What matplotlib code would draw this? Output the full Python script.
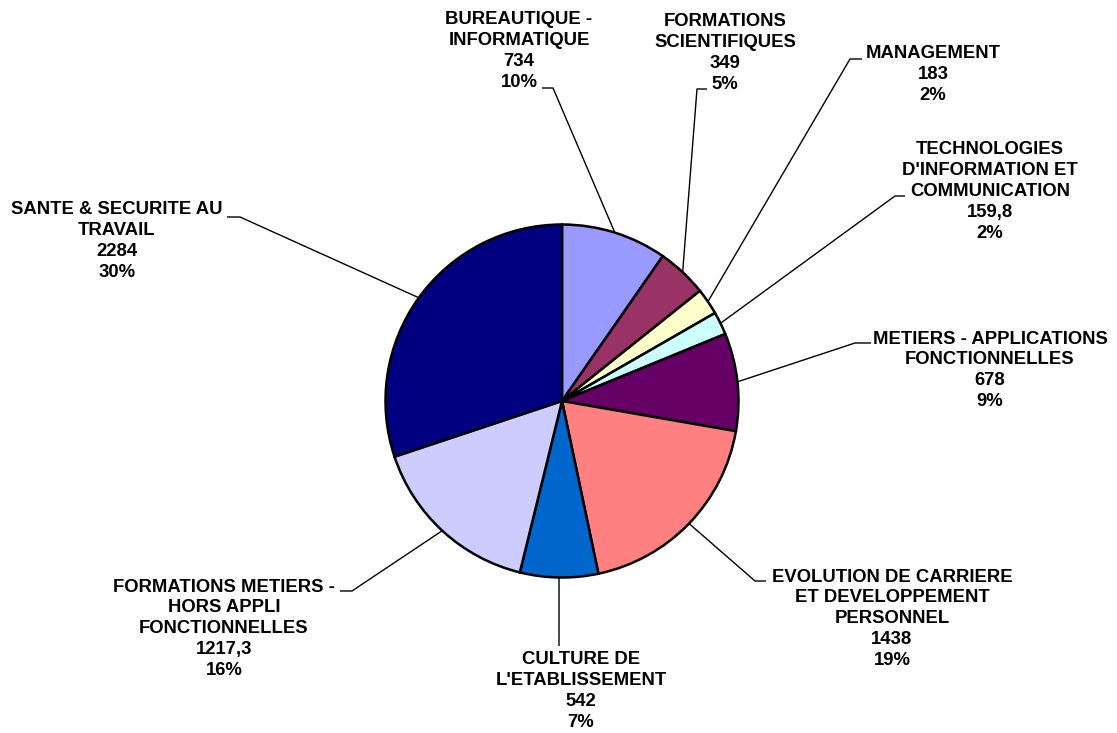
import matplotlib
matplotlib.use("Agg")
import matplotlib.pyplot as plt
import numpy as np

W, H = 1117, 733

categories = ["BUREAUTIQUE -\nINFORMATIQUE", "FORMATIONS\nSCIENTIFIQUES", "MANAGEMENT",
              "TECHNOLOGIES\nD'INFORMATION ET\nCOMMUNICATION",
              "METIERS - APPLICATIONS\nFONCTIONNELLES",
              "EVOLUTION DE CARRIERE\nET DEVELOPPEMENT\nPERSONNEL",
              "CULTURE DE\nL'ETABLISSEMENT",
              "FORMATIONS METIERS -\nHORS APPLI\nFONCTIONNELLES",
              "SANTE & SECURITE AU\nTRAVAIL"]
values = [734, 349, 183, 159.8, 678, 1438, 542, 1217.3, 2284]
colors = ["#9999FF", "#993366", "#FFFFCC", "#CCFFFF", "#660066",
          "#FF8080", "#0066CC", "#CCCCFF", "#000080"]

# label layout, in pixels from top-left: text centre x, first line centre y,
# bend of the leader line and its end next to the text
label_x = [519, 725, 933, 990, 990, 892, 581, 224, 117]
label_y = [18, 20, 52, 148, 337, 575, 658, 585, 208]
bend = [(553, 88), (697, 89), (850, 59), (895, 196), (855, 343),
        (755, 581), (559, 646), (352, 591), (240, 217)]
tip = [(542, 88), (707, 89), (862, 59), (905, 196), (871, 343),
       (766, 581), (559, 646), (340, 591), (227, 217)]

center = (562, H - 401)
radius = 176.5


def fmt(v):
    if float(v).is_integer():
        return str(int(v))
    return str(v).replace(".", ",")


fig = plt.figure(figsize=(W / 100, H / 100), dpi=100)
ax = fig.add_axes([0, 0, 1, 1])
ax.axis("off")

wedges, _ = ax.pie(values, colors=colors, startangle=90, counterclock=False,
                   center=center, radius=radius,
                   wedgeprops=dict(edgecolor="black", linewidth=1.8))
ax.set_xlim(0, W)
ax.set_ylim(0, H)
ax.set_aspect("equal")

total = sum(values)
for i, w in enumerate(wedges):
    mid = np.deg2rad((w.theta1 + w.theta2) / 2)
    ex = center[0] + radius * np.cos(mid)
    ey = center[1] + radius * np.sin(mid)
    xs = [ex, bend[i][0], tip[i][0]]
    ys = [ey, H - bend[i][1], H - tip[i][1]]
    ax.plot(xs, ys, color="black", lw=1.0, solid_capstyle="butt")

    text = categories[i] + "\n" + fmt(values[i]) + "\n" + "%d%%" % round(values[i] / total * 100)
    ax.text(label_x[i], H - (label_y[i] - 6.5), text, ha="center", va="top",
            fontsize=13.3, fontweight="bold", family="Liberation Sans",
            linespacing=1.3, multialignment="center")

fig.savefig("out.png", dpi=100, facecolor="white")
